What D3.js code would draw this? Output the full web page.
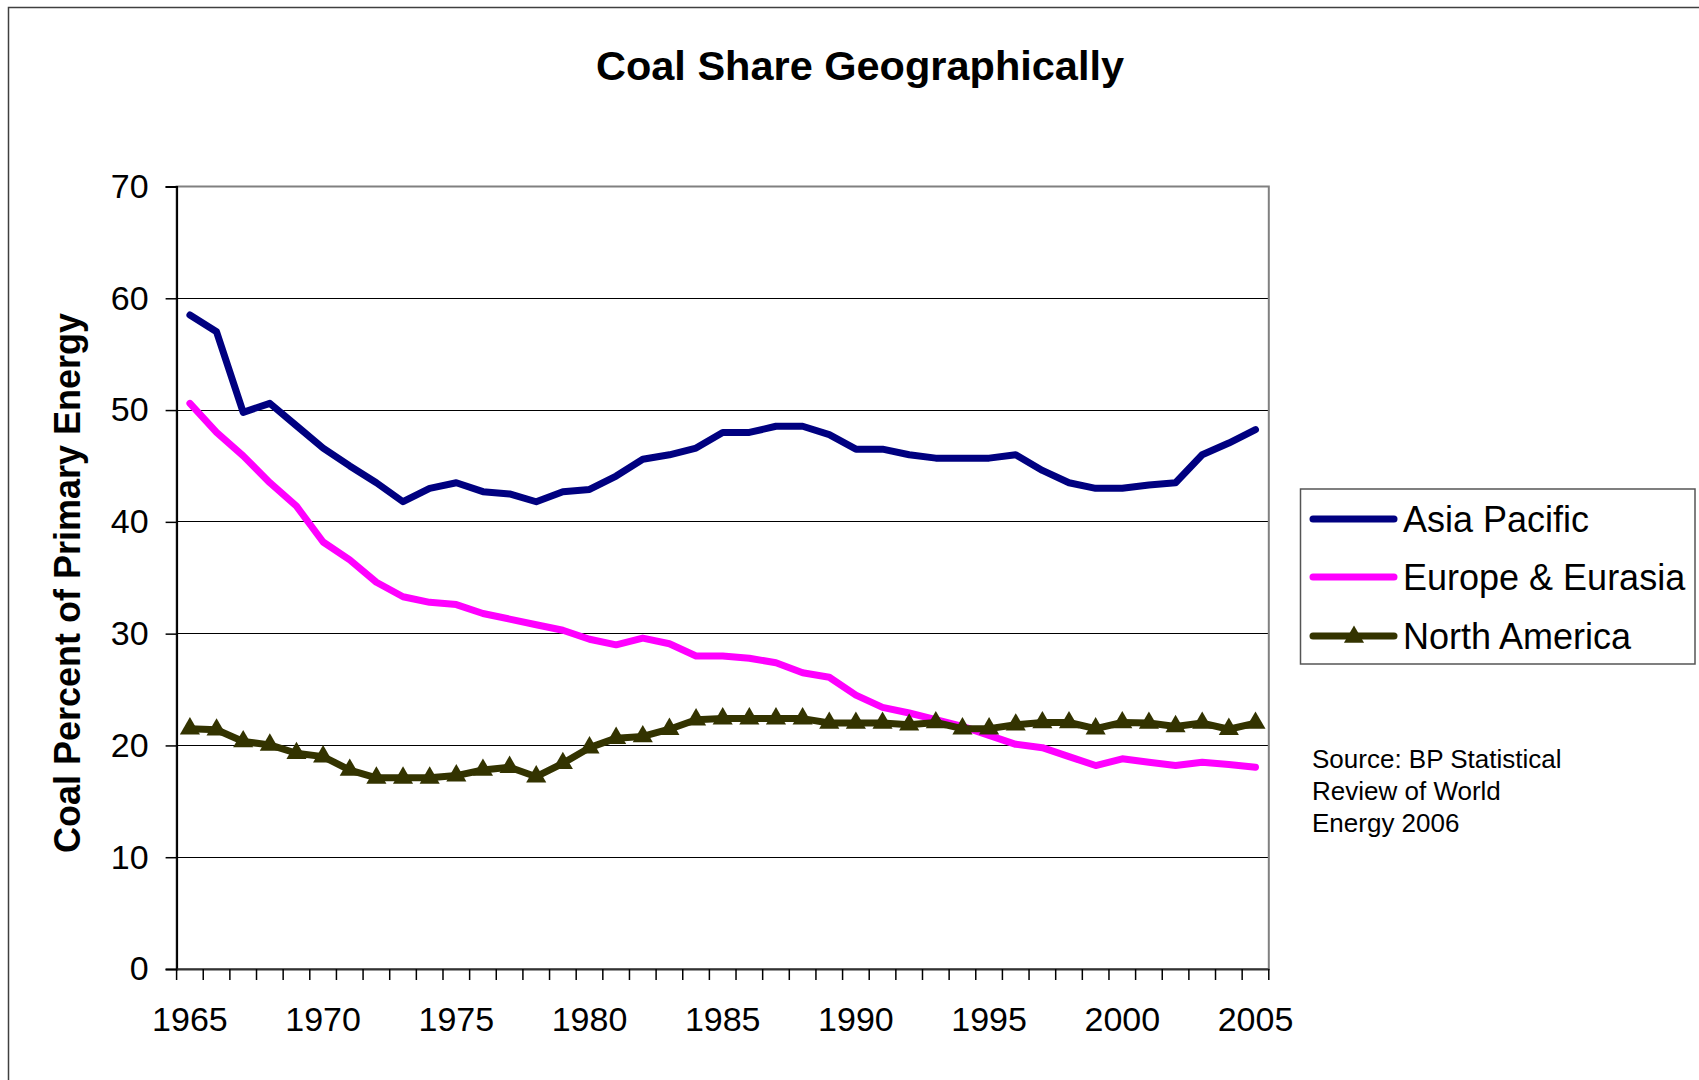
<!doctype html>
<html lang="en">
<head>
<meta charset="utf-8">
<title>Coal Share Geographically</title>
<script src="https://d3js.org/d3.v7.min.js"></script>
<style>
  body { margin: 0; background: white; }
  svg { display: block; font-family: "Liberation Sans", Arial, sans-serif; }
</style>
</head>
<body>
<svg class="mainSVG" width="1699" height="1080"></svg>
<script>
var years = [1965,1966,1967,1968,1969,1970,1971,1972,1973,1974,1975,1976,1977,1978,1979,1980,
             1981,1982,1983,1984,1985,1986,1987,1988,1989,1990,1991,1992,1993,1994,1995,1996,
             1997,1998,1999,2000,2001,2002,2003,2004,2005];
var yearLabels = [1965,1970,1975,1980,1985,1990,1995,2000,2005];
var yTicks = [0,10,20,30,40,50,60,70];

var asiaPacific = [58.5,57.0,49.8,50.6,48.6,46.6,45.0,43.5,41.8,43.0,43.5,42.7,42.5,41.8,42.7,42.9,
                   44.1,45.6,46.0,46.6,48.0,48.0,48.55,48.55,47.8,46.5,46.5,46.0,45.7,45.7,45.7,46.0,
                   44.6,43.5,43.0,43.0,43.3,43.5,46.0,47.05,48.25];
var europeEurasia = [50.6,48.0,45.9,43.5,41.4,38.2,36.6,34.6,33.3,32.8,32.6,31.8,31.3,30.8,30.3,29.5,
                     29.0,29.6,29.1,28.0,28.0,27.8,27.4,26.5,26.1,24.5,23.4,22.9,22.3,21.7,20.9,20.1,
                     19.8,19.0,18.2,18.8,18.5,18.2,18.5,18.3,18.05];
var northAmerica = [21.5,21.4,20.35,20.05,19.3,19.0,17.8,17.1,17.1,17.1,17.3,17.8,18.05,17.2,18.4,19.8,
                    20.65,20.8,21.45,22.3,22.4,22.4,22.4,22.4,22.0,22.0,22.0,21.85,22.05,21.5,21.5,21.85,
                    22.05,22.05,21.5,22.05,22.0,21.7,22.0,21.45,22.0];

var seriesNames = ["Asia Pacific", "Europe & Eurasia", "North America"];
var seriesColors = ["#000080", "#ff00ff", "#333300"];

var svg = d3.select(".mainSVG");
var plotLeft = 176.6, plotRight = 1268.8, plotTop = 186.5, plotBottom = 969;

var x = d3.scaleBand().domain(years).range([plotLeft, plotRight]);
var y = d3.scaleLinear().domain([0, 70]).range([plotBottom, plotTop]);

// outer chart frame (only left/top edges are in view)
svg.append("rect").attr("x", 8.5).attr("y", 7.5).attr("width", 1760).attr("height", 1140)
  .attr("fill", "white").attr("stroke", "#404040").attr("stroke-width", 1.5);

// title
svg.append("text").attr("x", 860).attr("y", 80).attr("text-anchor", "middle")
  .style("font-size", "41.5px").style("font-weight", "bold").text("Coal Share Geographically");

// gridlines
svg.append("g").selectAll("line").data(yTicks.slice(1, -1)).enter().append("line")
  .attr("x1", plotLeft).attr("x2", plotRight).attr("y1", function(d) { return y(d); }).attr("y2", function(d) { return y(d); })
  .attr("stroke", "#000").attr("stroke-width", 1).attr("shape-rendering", "crispEdges");

// plot area border
svg.append("rect").attr("x", plotLeft).attr("y", plotTop).attr("width", plotRight - plotLeft).attr("height", plotBottom - plotTop)
  .attr("fill", "none").attr("stroke", "#808080").attr("stroke-width", 2);

// y axis
var yAxis = svg.append("g").attr("transform", "translate(" + plotLeft + ",0)")
  .call(d3.axisLeft(y).tickValues(yTicks).tickSize(11).tickPadding(17));
yAxis.selectAll("text").style("font-size", "34px").attr("fill", "#000");
yAxis.selectAll("line").attr("stroke", "#000").attr("stroke-width", 1.5);
yAxis.select(".domain").attr("stroke", "#000").attr("stroke-width", 2);

// x axis: tick marks on category edges, labels every 5 years
var xAxis = svg.append("g").attr("transform", "translate(0," + plotBottom + ")")
  .call(d3.axisBottom(x).tickValues(yearLabels).tickSize(0).tickPadding(38));
xAxis.selectAll("text").style("font-size", "34px").attr("fill", "#000");
xAxis.select(".domain").attr("stroke", "#333").attr("stroke-width", 2);
var edges = years.map(function(d) { return x(d); }).concat([plotRight]);
xAxis.selectAll(".edge").data(edges).enter().append("line").attr("class", "edge")
  .attr("x1", function(d) { return d; }).attr("x2", function(d) { return d; })
  .attr("y1", 0).attr("y2", 11).attr("stroke", "#000").attr("stroke-width", 1.5);

// y axis title
svg.append("text").attr("transform", "translate(80,583) rotate(-90)").attr("text-anchor", "middle")
  .style("font-size", "36px").style("font-weight", "bold").text("Coal Percent of Primary Energy");

// lines
var cx = function(i) { return x(years[i]) + x.bandwidth() / 2; };
var line = d3.line().x(function(d, i) { return cx(i); }).y(function(d) { return y(d); });
var allSeries = [asiaPacific, europeEurasia, northAmerica];
svg.append("g").selectAll("path").data(allSeries).enter().append("path")
  .attr("d", line).attr("fill", "none")
  .attr("stroke", function(d, i) { return seriesColors[i]; })
  .attr("stroke-width", 7).attr("stroke-linejoin", "round").attr("stroke-linecap", "round");

var tri = d3.symbol().type(d3.symbolTriangle).size(175);
svg.append("g").selectAll("path").data(northAmerica).enter().append("path")
  .attr("d", tri).attr("fill", seriesColors[2])
  .attr("transform", function(d, i) { return "translate(" + cx(i) + "," + y(d) + ")"; });

// legend
var legend = svg.append("g");
legend.append("rect").attr("x", 1300.5).attr("y", 489).attr("width", 394.5).attr("height", 175)
  .attr("fill", "white").attr("stroke", "#555").attr("stroke-width", 1.5);
var rows = [519, 577, 636];
seriesNames.forEach(function(name, i) {
  legend.append("line").attr("x1", 1313).attr("x2", 1394).attr("y1", rows[i]).attr("y2", rows[i])
    .attr("stroke", seriesColors[i]).attr("stroke-width", 7).attr("stroke-linecap", "round");
  legend.append("text").attr("x", 1403).attr("y", rows[i] + 12.5).style("font-size", "36px").text(name);
});
legend.append("path").attr("d", tri).attr("fill", seriesColors[2])
  .attr("transform", "translate(1354," + (rows[2] + 1) + ")");

// source note
var src = svg.append("text").attr("x", 1312).attr("y", 768).style("font-size", "26px");
["Source: BP Statistical", "Review of World", "Energy 2006"].forEach(function(t, i) {
  src.append("tspan").attr("x", 1312).attr("dy", i == 0 ? 0 : 32).text(t);
});
</script>
</body>
</html>
